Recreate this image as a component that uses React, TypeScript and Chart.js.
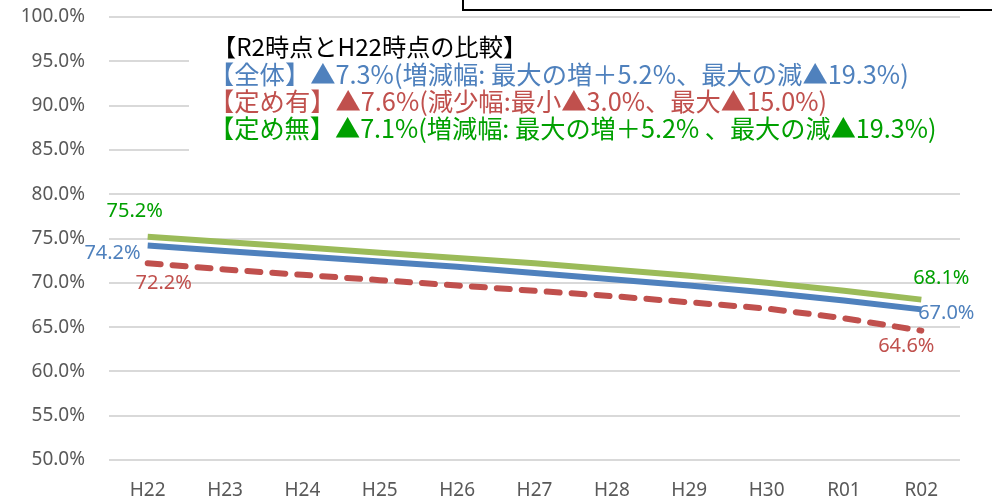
import React, { useEffect, useRef } from "react";
import { Chart, registerables } from "chart.js";

Chart.register(...registerables);

const categories = ["H22", "H23", "H24", "H25", "H26", "H27", "H28", "H29", "H30", "R01", "R02"];
const zentai = [74.2, 73.6, 73.0, 72.4, 71.8, 71.1, 70.4, 69.7, 68.9, 68.0, 67.0];
const sadameAri = [72.2, 71.5, 70.9, 70.3, 69.7, 69.1, 68.5, 67.8, 67.1, 66.0, 64.6];
const sadameNashi = [75.2, 74.6, 74.0, 73.4, 72.8, 72.2, 71.5, 70.8, 70.0, 69.1, 68.1];
const seriesNames = ["全体", "定め有", "定め無"];
const yMin = 50;
const yMax = 100;
const yStep = 5;

const noteTitle = "【R2時点とH22時点の比較】";
const noteZentai = "【全体】▲7.3%(増減幅: 最大の増＋5.2%、最大の減▲19.3%)";
const noteAri = "【定め有】▲7.6%(減少幅:最小▲3.0%、最大▲15.0%)";
const noteNashi = "【定め無】▲7.1%(増減幅: 最大の増＋5.2% 、最大の減▲19.3%)";

const BLUE = "#4F81BD";
const RED = "#C0504D";
const GREEN_LINE = "#9BBB59";
const GREEN_TEXT = "#00A000";

const JP = '"Noto Sans CJK JP", "Noto Sans", sans-serif';
const LBL = '"Noto Sans", "Open Sans", sans-serif';

// label offsets relative to point: [datasetIndex, pointIndex, dx, dy, align, color]
const labelSpecs: [number, number, number, number, CanvasTextAlign, string][] = [
  [2, 0, -13, -25, "center", GREEN_TEXT],
  [0, 0, -7, 8, "right", BLUE],
  [1, 0, 16, 20, "center", RED],
  [2, 10, 20, -21, "center", GREEN_TEXT],
  [0, 10, 25, 4, "center", BLUE],
  [1, 10, -15, 16, "center", RED],
];

const overlayPlugin = {
  id: "overlay",
  beforeDatasetsDraw(chart: any) {
    const ctx = chart.ctx;
    ctx.save();
    ctx.fillStyle = "#ffffff";
    ctx.fillRect(189, 28, 992 - 189, 134);
    ctx.textBaseline = "middle";
    ctx.textAlign = "left";
    const lines: [string, string, number, number, number][] = [
      [noteTitle, "#000000", 212, 47, 24.2],
      [noteZentai, BLUE, 209, 74, 25.3],
      [noteAri, RED, 209, 101, 25.3],
      [noteNashi, GREEN_TEXT, 209, 128, 25.2],
    ];
    for (const [t, c, x, y, s] of lines) {
      ctx.font = `${s}px ${JP}`;
      ctx.fillStyle = c;
      ctx.fillText(t, x, y);
    }
    ctx.restore();
  },
  afterDatasetsDraw(chart: any) {
    const ctx = chart.ctx;
    ctx.save();
    ctx.font = `20px ${LBL}`;
    ctx.textBaseline = "middle";
    for (const [di, pi, dx, dy, align, color] of labelSpecs) {
      const meta = chart.getDatasetMeta(di);
      const pt = meta.data[pi];
      const v = chart.data.datasets[di].data[pi] as number;
      ctx.fillStyle = color;
      ctx.textAlign = align;
      ctx.fillText(v.toFixed(1) + "%", pt.x + dx, pt.y + dy);
    }
    ctx.strokeStyle = "#000000";
    ctx.lineWidth = 2;
    ctx.strokeRect(463, -20, 600, 30);
    ctx.restore();
  },
};

export default function App() {
  const ref = useRef<HTMLCanvasElement>(null);
  useEffect(() => {
    document.body.style.margin = "0";
    const canvas = ref.current!;
    const chart = new Chart(canvas, {
      type: "line",
      data: {
        labels: categories,
        datasets: [
          {
            label: seriesNames[0],
            data: zentai,
            borderColor: BLUE,
            backgroundColor: BLUE,
            borderWidth: 6,
            pointRadius: 0,
            tension: 0,
            order: 2,
          },
          {
            label: seriesNames[1],
            data: sadameAri,
            borderColor: RED,
            backgroundColor: RED,
            borderWidth: 6,
            borderDash: [13, 12],
            borderCapStyle: "round",
            pointRadius: 0,
            tension: 0,
            order: 3,
          },
          {
            label: seriesNames[2],
            data: sadameNashi,
            borderColor: GREEN_LINE,
            backgroundColor: GREEN_LINE,
            borderWidth: 6,
            pointRadius: 0,
            tension: 0,
            order: 1,
          },
        ],
      },
      options: {
        responsive: false,
        animation: false,
        devicePixelRatio: 1,
        layout: { padding: { top: 17, right: 32, left: 0, bottom: 0 } },
        plugins: {
          legend: { display: false },
          tooltip: { enabled: false },
          title: { display: false },
        },
        scales: {
          x: {
            offset: true,
            grid: { display: false, drawTicks: false },
            border: { display: false },
            ticks: {
              color: "#595959",
              font: { family: LBL, size: 19 },
              padding: 19,
              maxRotation: 0,
              autoSkip: false,
            },
            afterFit: (s: any) => {
              s.height = 39;
              s.paddingLeft = 0;
              s.paddingRight = 0;
            },
          },
          y: {
            min: yMin,
            max: yMax,
            grid: { color: "#d9d9d9", lineWidth: 2, drawTicks: false },
            border: { display: false },
            ticks: {
              stepSize: yStep,
              color: "#595959",
              font: { family: LBL, size: 19 },
              padding: 24,
              callback: (v: any) => Number(v).toFixed(1) + "%",
            },
            afterFit: (s: any) => {
              s.width = 109;
              s.paddingTop = 0;
              s.paddingBottom = 0;
            },
          },
        },
      },
      plugins: [overlayPlugin],
    });
    return () => chart.destroy();
  }, []);
  return <canvas ref={ref} width={992} height={499} style={{ display: "block" }} />;
}
